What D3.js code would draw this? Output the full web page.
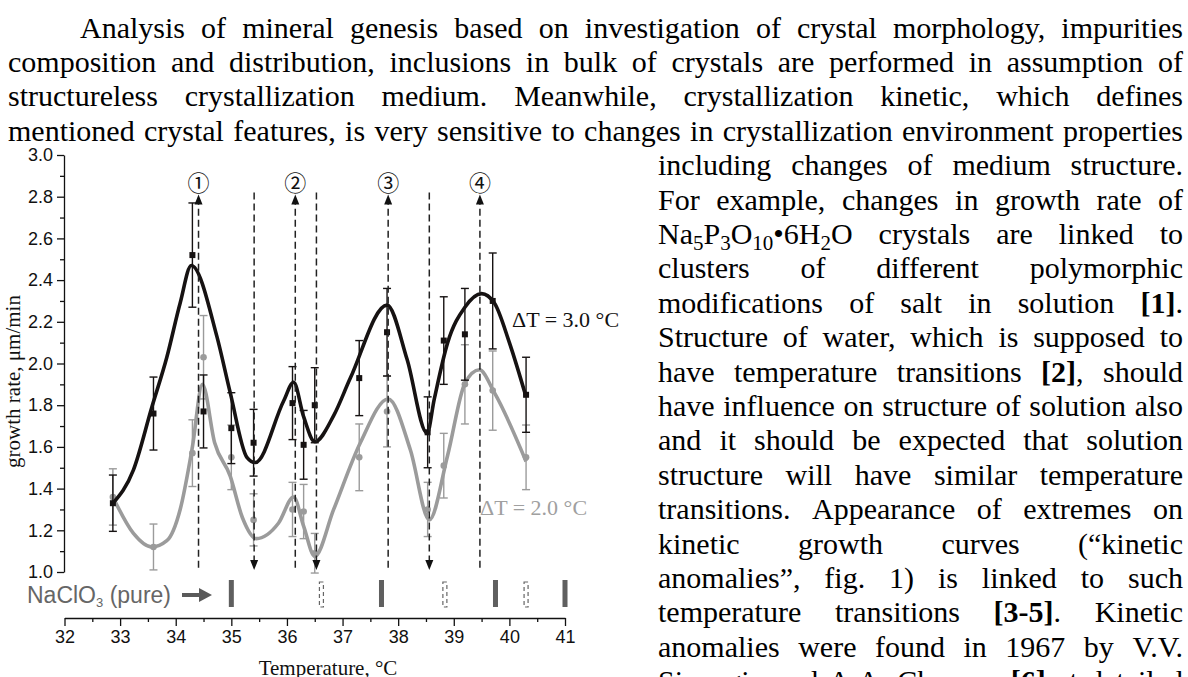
<!DOCTYPE html>
<html>
<head>
<meta charset="utf-8">
<script src="https://cdn.jsdelivr.net/npm/d3@7"></script>
<style>
  html, body { margin: 0; padding: 0; background: #fff; overflow: hidden; }
  svg { display: block; }
</style>
</head>
<body>
<svg id="page" width="1188" height="677"></svg>
<script>
// ---------- measured growth rates ----------
const temperature = [32.87, 33.6, 34.3, 34.5, 35.0, 35.4, 36.1, 36.3, 36.5, 37.3, 37.8, 38.53, 38.82, 39.2, 39.7, 40.3];
const rateDT3 = [1.33, 1.76, 2.52, 1.77, 1.69, 1.62, 1.81, 1.61, 1.80, 1.93, 2.15, 1.67, 2.11, 2.14, 2.30, 1.85];
const errDT3  = [0.135, 0.175, 0.25, 0.175, 0.17, 0.16, 0.175, 0.165, 0.18, 0.18, 0.21, 0.17, 0.21, 0.22, 0.23, 0.18];
const rateDT2 = [1.36, 1.12, 1.57, 2.03, 1.55, 1.25, 1.30, 1.29, 1.09, 1.55, 1.77, 1.30, 1.51, 1.90, 1.87, 1.55];
const errDT2  = [0.135, 0.11, 0.16, 0.20, 0.155, 0.125, 0.13, 0.13, 0.095, 0.16, 0.17, 0.13, 0.155, 0.19, 0.19, 0.155];

// fitted curves: [temperature, growth rate]
const fitDT3 = [[32.87,1.33],[33.24,1.49],[33.57,1.79],[33.84,2.03],[34.08,2.29],[34.28,2.47],[34.74,2.13],
  [34.98,1.86],[35.28,1.55],[35.43,1.525],[35.94,1.82],[36.12,1.91],[36.3,1.745],[36.5,1.625],[36.84,1.75],
  [37.14,1.93],[37.8,2.28],[38.16,2.02],[38.52,1.665],[38.65,1.83],[38.89,2.10],[39.2,2.27],[39.5,2.335],
  [39.73,2.29],[40.0,2.10],[40.3,1.84]];
const fitDT2 = [[32.87,1.36],[33.24,1.185],[33.57,1.12],[33.84,1.15],[34.08,1.30],[34.3,1.60],[34.48,1.90],
  [34.70,1.62],[34.98,1.46],[35.2,1.26],[35.45,1.16],[35.85,1.235],[36.12,1.36],[36.3,1.22],[36.5,1.075],
  [36.84,1.30],[37.32,1.62],[37.82,1.83],[38.22,1.585],[38.56,1.25],[38.89,1.56],[39.2,1.905],[39.46,1.97],
  [39.73,1.86],[40.3,1.53]];

// transition temperatures
const peakTemps = [34.41, 36.15, 37.82, 39.47];
const peakLabels = ["①", "②", "③", "④"];
const troughTemps = [35.41, 36.53, 38.56];
const pureSolid = [35.0, 37.7, 39.75, 41.0];
const pureDashed = [36.62, 38.84, 40.3];

// axes
const xTickValues = [32, 33, 34, 35, 36, 37, 38, 39, 40, 41];
const xMinorValues = [32.5, 33.5, 34.5, 35.5, 36.5, 37.5, 38.5, 39.5, 40.5];
const yTickValues = [1.0, 1.2, 1.4, 1.6, 1.8, 2.0, 2.2, 2.4, 2.6, 2.8, 3.0];
const yMinorValues = [1.1, 1.3, 1.5, 1.7, 1.9, 2.1, 2.3, 2.5, 2.7, 2.9];
const seriesLabels = ["ΔT = 3.0 °C", "ΔT = 2.0 °C"];

// ---------- body text ----------
// _n marks a subscript, *...* marks bold
const bodyText = [
  "Analysis of mineral genesis based on investigation of crystal morphology, impurities",
  "composition and distribution, inclusions in bulk of crystals are performed in assumption of",
  "structureless crystallization medium. Meanwhile, crystallization kinetic, which defines",
  "mentioned crystal features, is very sensitive to changes in crystallization environment properties",
  "including changes of medium structure.",
  "For example, changes in growth rate of",
  "Na_5P_3O_10•6H_2O crystals are linked to",
  "clusters of different polymorphic",
  "modifications of salt in solution *[1]*.",
  "Structure of water, which is supposed to",
  "have temperature transitions *[2]*, should",
  "have influence on structure of solution also",
  "and it should be expected that solution",
  "structure will have similar temperature",
  "transitions. Appearance of extremes on",
  "kinetic growth curves (“kinetic",
  "anomalies”, fig. 1) is linked to such",
  "temperature transitions *[3-5]*. Kinetic",
  "anomalies were found in 1967 by V.V.",
  "Sipyagin and A.A. Chernov *[6]* at detailed"
];

const svg = d3.select("#page");
const SERIF = "'Liberation Serif','Times New Roman',serif";
const SANS = "'Liberation Sans',Arial,sans-serif";

// ---------- paragraph layout ----------
const textG = svg.append("g")
  .attr("font-family", SERIF).attr("font-size", 30).attr("fill", "#000");

function parseWord(w) {
  const segs = [];
  const re = /\*([^*]+)\*|_(\d+)|([^*_]+)/g;
  let m;
  while ((m = re.exec(w))) {
    if (m[1]) segs.push({ t: m[1], bold: true });
    else if (m[2]) segs.push({ t: m[2], sub: true });
    else segs.push({ t: m[3] });
  }
  return segs;
}
function drawWord(g, word, y) {
  const t = g.append("text").attr("x", 0).attr("y", y);
  let shift = 0;
  parseWord(word).forEach(s => {
    const ts = t.append("tspan").text(s.t);
    const target = s.sub ? 6 : 0;
    if (target !== shift) { ts.attr("dy", target - shift); shift = target; }
    if (s.sub) ts.attr("font-size", 21);
    if (s.bold) ts.attr("font-weight", "bold");
  });
  return t;
}
function justifyLine(line, x0, x1, y) {
  const words = line.split(" ");
  const nodes = words.map(w => drawWord(textG, w, y));
  const widths = nodes.map(n => n.node().getComputedTextLength());
  const gap = words.length > 1 ? (x1 - x0 - d3.sum(widths)) / (words.length - 1) : 0;
  let xx = x0;
  nodes.forEach((n, i) => { n.attr("x", xx); xx += widths[i] + gap; });
}
const lineStep = 34.4, firstBase = 37.5, rightEdge = 1183;
bodyText.forEach((line, i) => {
  const yb = firstBase + i * lineStep;
  let x0;
  if (i === 0) x0 = 80;
  else if (i < 4) x0 = 8;
  else x0 = 658;
  justifyLine(line, x0, rightEdge, yb);
});

// ---------- chart ----------
const x = d3.scaleLinear().domain([32, 41]).range([64.5, 565]);
const y = d3.scaleLinear().domain([1.0, 3.0]).range([572, 155]);
const AXIS_X = 64, AXIS_Y = 618;

function styleAxis(g, fs) {
  g.attr("font-family", SANS).attr("font-size", fs);
  g.selectAll("path, line").attr("stroke", "#111").attr("stroke-width", 1.3);
  g.selectAll("text").attr("fill", "#111");
}

// y axis
const yAxisG = svg.append("g").attr("transform", `translate(${AXIS_X},0)`)
  .call(d3.axisLeft(y).tickValues(yTickValues).tickFormat(d3.format(".1f"))
    .tickSize(7).tickPadding(4).tickSizeOuter(0));
styleAxis(yAxisG, 18);
const yMinorG = svg.append("g").attr("transform", `translate(${AXIS_X},0)`)
  .call(d3.axisLeft(y).tickValues(yMinorValues).tickFormat("").tickSize(4).tickSizeOuter(0));
yMinorG.select(".domain").remove();
styleAxis(yMinorG, 18);

// x axis
const xAxisG = svg.append("g").attr("transform", `translate(0,${AXIS_Y})`)
  .call(d3.axisBottom(x).tickValues(xTickValues).tickFormat(d3.format("d"))
    .tickSize(8).tickPadding(4).tickSizeOuter(0));
styleAxis(xAxisG, 18);
const xMinorG = svg.append("g").attr("transform", `translate(0,${AXIS_Y})`)
  .call(d3.axisBottom(x).tickValues(xMinorValues).tickFormat("").tickSize(4).tickSizeOuter(0));
xMinorG.select(".domain").remove();
styleAxis(xMinorG, 18);

// axis titles
svg.append("text")
  .attr("transform", `translate(20,${(y(1) + y(3)) / 2 + 18}) rotate(-90)`)
  .attr("text-anchor", "middle").attr("font-family", SERIF).attr("font-size", 21).attr("fill", "#111")
  .text("growth rate, μm/min");
svg.append("text")
  .attr("x", 328).attr("y", 675).attr("text-anchor", "middle")
  .attr("font-family", SERIF).attr("font-size", 21).attr("fill", "#111")
  .text("Temperature, °C");

// series helpers
const GRAY = "#9b9b9b", BLACK = "#161212";
function errorBars(vals, errs, color) {
  const g = svg.append("g").attr("stroke", color).attr("stroke-width", 1.4).attr("fill", "none");
  temperature.forEach((t, i) => {
    const cx = x(t), top = y(vals[i] + errs[i]), bot = y(vals[i] - errs[i]);
    g.append("line").attr("x1", cx).attr("x2", cx).attr("y1", top).attr("y2", bot);
    g.append("line").attr("x1", cx - 4).attr("x2", cx + 4).attr("y1", top).attr("y2", top);
    g.append("line").attr("x1", cx - 4).attr("x2", cx + 4).attr("y1", bot).attr("y2", bot);
  });
}
const fitLine = d3.line().x(d => x(d[0])).y(d => y(d[1])).curve(d3.curveMonotoneX);

// ΔT = 2.0 °C series
errorBars(rateDT2, errDT2, GRAY);
svg.append("g").selectAll("circle").data(temperature).join("circle")
  .attr("cx", d => x(d)).attr("cy", (d, i) => y(rateDT2[i])).attr("r", 3.3).attr("fill", GRAY);
svg.append("path").datum(fitDT2).attr("d", fitLine)
  .attr("fill", "none").attr("stroke", GRAY).attr("stroke-width", 3.6);

// ΔT = 3.0 °C series
errorBars(rateDT3, errDT3, BLACK);
svg.append("g").selectAll("rect").data(temperature).join("rect")
  .attr("x", d => x(d) - 3).attr("y", (d, i) => y(rateDT3[i]) - 3)
  .attr("width", 6).attr("height", 6).attr("fill", BLACK);
svg.append("path").datum(fitDT3).attr("d", fitLine)
  .attr("fill", "none").attr("stroke", BLACK).attr("stroke-width", 3.6);

// transition markers: dashed verticals with arrows
const markG = svg.append("g");
peakTemps.forEach((t, i) => {
  const cx = x(t), tip = y(2.81);
  markG.append("line").attr("x1", cx).attr("x2", cx).attr("y1", y(1.02)).attr("y2", tip + 8)
    .attr("stroke", "#222").attr("stroke-width", 1.5).attr("stroke-dasharray", "7,4");
  markG.append("path").attr("d", `M${cx},${tip}L${cx - 4},${tip + 10}L${cx + 4},${tip + 10}Z`).attr("fill", "#111");
  markG.append("text").attr("x", cx).attr("y", y(2.81) - 14)
    .attr("text-anchor", "middle").attr("dominant-baseline", "central")
    .attr("font-family", "'Noto Sans CJK JP','DejaVu Sans',sans-serif").attr("font-size", 22).attr("fill", "#111")
    .text(peakLabels[i]);
});
troughTemps.forEach(t => {
  const cx = x(t), tip = y(1.01);
  markG.append("line").attr("x1", cx).attr("x2", cx).attr("y1", y(2.82)).attr("y2", tip - 8)
    .attr("stroke", "#222").attr("stroke-width", 1.5).attr("stroke-dasharray", "7,4");
  markG.append("path").attr("d", `M${cx},${tip}L${cx - 4},${tip - 10}L${cx + 4},${tip - 10}Z`).attr("fill", "#111");
});

// series labels
svg.append("text").attr("x", 512).attr("y", 327)
  .attr("font-family", SERIF).attr("font-size", 22).attr("fill", "#111").text(seriesLabels[0]);
svg.append("text").attr("x", 480).attr("y", 515)
  .attr("font-family", SERIF).attr("font-size", 22).attr("fill", "#a0a0a0").text(seriesLabels[1]);

// pure NaClO3 transitions row
const pureG = svg.append("g");
const pureLabel = pureG.append("text").attr("x", 27).attr("y", 603)
  .attr("font-family", SANS).attr("font-size", 23).attr("fill", "#666");
pureLabel.append("tspan").text("NaClO");
pureLabel.append("tspan").attr("font-size", 13).attr("dy", 4).text("3");
pureLabel.append("tspan").attr("dy", -4).text(" (pure)");
pureG.append("path")
  .attr("d", "M182,593L199,593L199,588L212,595L199,602L199,597L182,597Z").attr("fill", "#5a5a5a");
pureG.selectAll("rect.solid").data(pureSolid).join("rect").attr("class", "solid")
  .attr("x", d => x(d) - 2.5).attr("y", 580).attr("width", 5).attr("height", 27).attr("fill", "#5f5f5f");
pureG.selectAll("rect.dash").data(pureDashed).join("rect").attr("class", "dash")
  .attr("x", d => x(d) - 2).attr("y", 582).attr("width", 4).attr("height", 25)
  .attr("fill", "none").attr("stroke", "#666").attr("stroke-width", 1.2).attr("stroke-dasharray", "4,3");
</script>
</body>
</html>
